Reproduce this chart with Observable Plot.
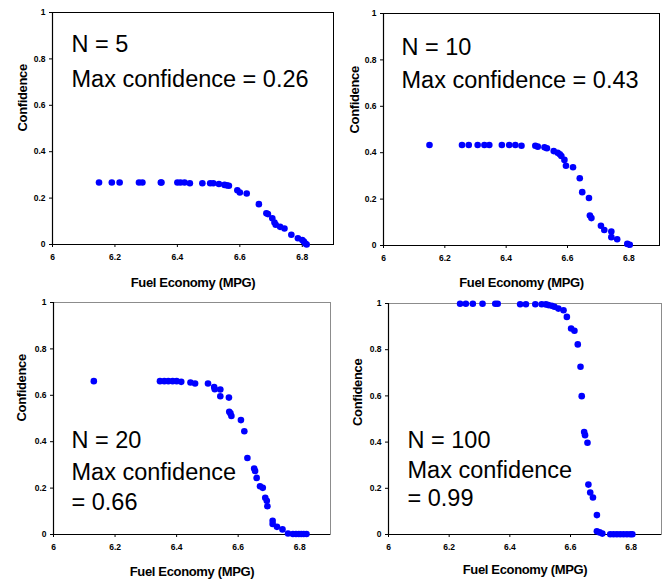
<!DOCTYPE html>
<html>
<head>
<meta charset="utf-8">
<script src="https://cdn.jsdelivr.net/npm/d3@7"></script>
<script src="https://cdn.jsdelivr.net/npm/@observablehq/plot@0.6"></script>
<style>
  body { margin: 0; background: white; }
  #chart { position: relative; width: 666px; height: 579px; background: white; overflow: hidden; }
  #chart svg { position: absolute; max-width: none; }
  #chart g.axis-title text { letter-spacing: -0.35px; }
</style>
</head>
<body>
<div id="chart"></div>
<script>
// ---- Data ----
const xTicks = [6, 6.2, 6.4, 6.6, 6.8];
const yTicks = [0, 0.2, 0.4, 0.6, 0.8, 1];
const xLabel = "Fuel Economy (MPG)";
const yLabel = "Confidence";

const n5Mpg  = [6.149, 6.19, 6.215, 6.277, 6.288, 6.347, 6.349, 6.40, 6.41, 6.423, 6.44, 6.48, 6.505, 6.515, 6.533, 6.551, 6.558, 6.565, 6.592, 6.60, 6.622, 6.661, 6.685, 6.69, 6.704, 6.711, 6.715, 6.729, 6.743, 6.765, 6.786, 6.80, 6.805, 6.81, 6.814];
const n5Conf = [0.267, 0.267, 0.267, 0.267, 0.267, 0.267, 0.267, 0.267, 0.267, 0.267, 0.264, 0.264, 0.264, 0.264, 0.261, 0.257, 0.255, 0.253, 0.234, 0.224, 0.22, 0.174, 0.135, 0.131, 0.113, 0.095, 0.085, 0.076, 0.069, 0.042, 0.027, 0.019, 0.013, 0.004, 0.0];

const n10Mpg  = [6.150, 6.256, 6.278, 6.307, 6.329, 6.345, 6.386, 6.41, 6.43, 6.45, 6.495, 6.503, 6.525, 6.533, 6.555, 6.568, 6.575, 6.58, 6.59, 6.595, 6.618, 6.64, 6.648, 6.670, 6.673, 6.678, 6.709, 6.72, 6.743, 6.743, 6.762, 6.795, 6.803];
const n10Conf = [0.433, 0.433, 0.433, 0.433, 0.433, 0.433, 0.433, 0.433, 0.433, 0.430, 0.430, 0.426, 0.423, 0.419, 0.407, 0.400, 0.393, 0.386, 0.369, 0.344, 0.337, 0.290, 0.230, 0.205, 0.129, 0.118, 0.085, 0.067, 0.060, 0.036, 0.027, 0.007, 0.003];

const n20Mpg  = [6.131, 6.346, 6.36, 6.373, 6.387, 6.40, 6.415, 6.445, 6.46, 6.502, 6.522, 6.524, 6.542, 6.542, 6.57, 6.571, 6.575, 6.578, 6.609, 6.62, 6.63, 6.652, 6.655, 6.66, 6.671, 6.68, 6.688, 6.693, 6.695, 6.712, 6.712, 6.726, 6.744, 6.762, 6.778, 6.788, 6.797, 6.805, 6.813, 6.822];
const n20Conf = [0.661, 0.661, 0.661, 0.661, 0.661, 0.661, 0.658, 0.655, 0.651, 0.651, 0.636, 0.626, 0.625, 0.596, 0.590, 0.529, 0.522, 0.511, 0.493, 0.445, 0.330, 0.284, 0.274, 0.244, 0.208, 0.201, 0.158, 0.145, 0.122, 0.059, 0.045, 0.033, 0.022, 0.004, 0.002, 0.002, 0.002, 0.002, 0.002, 0.002];

const n100Mpg  = [6.236, 6.255, 6.278, 6.31, 6.352, 6.36, 6.434, 6.453, 6.484, 6.505, 6.519, 6.527, 6.538, 6.547, 6.56, 6.577, 6.588, 6.602, 6.613, 6.624, 6.633, 6.637, 6.645, 6.648, 6.656, 6.659, 6.665, 6.674, 6.687, 6.687, 6.696, 6.705, 6.731, 6.742, 6.753, 6.764, 6.775, 6.786, 6.797, 6.804];
const n100Conf = [0.999, 0.999, 0.999, 0.999, 0.999, 0.999, 0.997, 0.997, 0.997, 0.997, 0.996, 0.993, 0.990, 0.986, 0.978, 0.971, 0.942, 0.892, 0.882, 0.823, 0.726, 0.599, 0.444, 0.430, 0.397, 0.216, 0.182, 0.160, 0.084, 0.014, 0.009, 0.004, 0.001, 0.001, 0.001, 0.001, 0.001, 0.001, 0.001, 0.001];

const n5Text   = ["N = 5", "Max confidence = 0.26"];
const n10Text  = ["N = 10", "Max confidence = 0.43"];
const n20Text  = ["N = 20", "Max confidence", "= 0.66"];
const n100Text = ["N = 100", "Max confidence", "= 0.99"];

// ---- Layout ----
const panels = [
  {mpg: n5Mpg, conf: n5Conf, text: n5Text, left: 0, top: 0, w: 281, h: 232, frame: "#000", lines: [39, 74], tdx: 19, ylab: [-30, 3], xlab: 42},
  {mpg: n10Mpg, conf: n10Conf, text: n10Text, left: 331, top: 1, w: 276, h: 232, frame: "#000", lines: [41, 74], tdx: 18, ylab: [-29, 4], xlab: 41},
  {mpg: n20Mpg, conf: n20Conf, text: n20Text, left: 1, top: 290, w: 277, h: 232, frame: "#8c8c8c", lines: [145, 177, 207], tdx: 18, ylab: [-32, 3], xlab: 41},
  {mpg: n100Mpg, conf: n100Conf, text: n100Text, left: 336, top: 291, w: 273, h: 231, frame: "#8c8c8c", lines: [144, 174, 202], tdx: 19, ylab: [-31, 7], xlab: 39.5}
];

const font = "'Liberation Sans', Arial, Helvetica, sans-serif";
const chart = document.getElementById("chart");

for (const p of panels) {
  const data = p.mpg.map((m, i) => ({mpg: m, conf: p.conf[i]}));
  const mL = 52, mT = 12, mR = 2, mB = 48;
  const textMarks = p.text.map((t, i) => Plot.text([t], {
    frameAnchor: "top-left", textAnchor: "start", lineAnchor: "bottom",
    dx: p.tdx, dy: p.lines[i], fontSize: 23.5, fill: "black"
  }));
  const svg = Plot.plot({
    width: mL + p.w + mR,
    height: mT + p.h + mB,
    marginLeft: mL, marginTop: mT, marginRight: mR, marginBottom: mB,
    style: {fontFamily: font, background: "transparent", overflow: "visible"},
    x: {domain: [6, 6.9]},
    y: {domain: [0, 1]},
    marks: [
      Plot.frame({stroke: p.frame, strokeWidth: 1}),
      Plot.ruleX([6], {stroke: "black", strokeWidth: 1.2}),
      Plot.ruleY([0], {stroke: "black", strokeWidth: 1.2}),
      Plot.axisX({ticks: xTicks, tickFormat: d => `${d}`, tickSize: 3, tickPadding: 6, fontSize: 8.5, fontWeight: "bold", label: null}),
      Plot.axisY({ticks: yTicks, tickFormat: d => `${d}`, tickSize: 3, tickPadding: 4, fontSize: 8.5, fontWeight: "bold", label: null}),
      Plot.text([yLabel], {frameAnchor: "left", rotate: -90, dx: p.ylab[0], dy: p.ylab[1], fontSize: 13, fontWeight: "bold", fill: "black", className: "axis-title"}),
      Plot.text([xLabel], {frameAnchor: "bottom", lineAnchor: "bottom", dy: p.xlab, fontSize: 13, fontWeight: "bold", fill: "black", className: "axis-title"}),
      Plot.dot(data, {x: "mpg", y: "conf", r: 3.3, fill: "#0000ff", stroke: "none"}),
      ...textMarks
    ]
  });
  svg.style.left = `${p.left}px`;
  svg.style.top = `${p.top}px`;
  chart.appendChild(svg);
}
</script>
</body>
</html>
